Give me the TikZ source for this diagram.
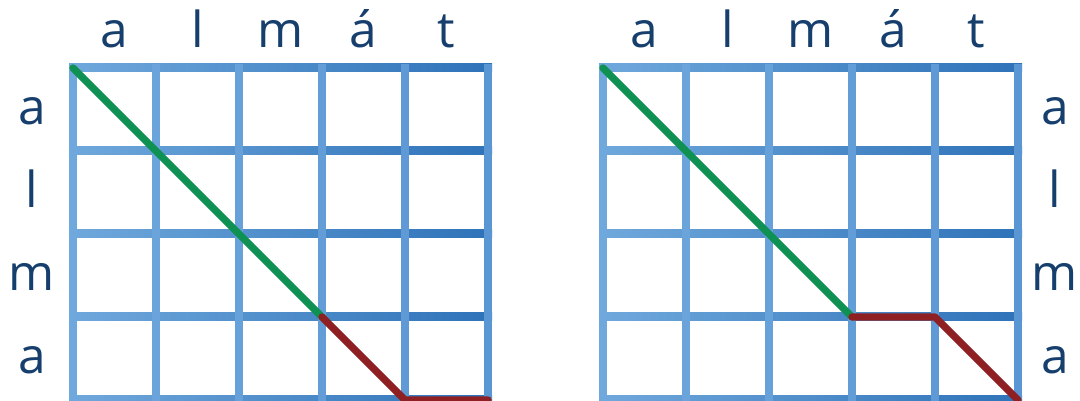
\documentclass[tikz,border=0pt]{standalone}
\usepackage{fontspec}
\setmainfont{Open Sans}
\begin{document}
\begin{tikzpicture}[
        hline/.style={left color=gridlt, right color=griddk},
        vline/.style={line width=2.75pt},
        matchline/.style={draw=matchg, line width=2.5pt, line cap=round, line join=round},
        gapline/.style={draw=gapred, line width=2.5pt, line cap=round, line join=round},
        lab/.style={font=\fontsize{17}{20}\selectfont, text=labnavy, anchor=base},
      ]
      \definecolor{gridlt}{HTML}{6FA8DC}
      \definecolor{gridmid}{HTML}{5590D2}
      \definecolor{griddk}{HTML}{2E72B8}
      \definecolor{labnavy}{HTML}{173F6D}
      \definecolor{matchg}{HTML}{0E9152}
      \definecolor{gapred}{HTML}{8E2024}
      \path[use as bounding box] (0,0) rectangle (13.012,4.831);
      % left grid
      \begin{scope}[shift={(0.88,0.012)}]
        \foreach \r in {0,...,4} {\shade[hline] (-0.048,\r-0.048) rectangle (5.048,\r+0.048);}
        \foreach \c in {0,...,5} {\pgfmathsetmacro\p{100-\c*15}\draw[vline, draw=gridlt!\p!gridmid] (\c,-0.048) -- (\c,4.048);}
        \foreach \ch [count=\i] in {a,l,m,á,t} {\node[lab] (ltop\i) at (\i-0.5,4.241) {\ch};}
        \foreach \ch [count=\i] in {a,l,m,a} {\node[lab] (lside\i) at (-0.494,4.313-\i) {\ch};}
        \draw[matchline] (0,4) -- (3,1);
        \draw[gapline] (3,1) -- (4,0) -- (5,0);
      \end{scope}
      % right grid
      \begin{scope}[shift={(7.265,0.012)}]
        \foreach \r in {0,...,4} {\shade[hline] (-0.048,\r-0.048) rectangle (5.048,\r+0.048);}
        \foreach \c in {0,...,5} {\pgfmathsetmacro\p{100-\c*15}\draw[vline, draw=gridlt!\p!gridmid] (\c,-0.048) -- (\c,4.048);}
        \foreach \ch [count=\i] in {a,l,m,á,t} {\node[lab] (rtop\i) at (\i-0.5,4.241) {\ch};}
        \foreach \ch [count=\i] in {a,l,m,a} {\node[lab] (rside\i) at (5.445,4.313-\i) {\ch};}
        \draw[matchline] (0,4) -- (3,1);
        \draw[gapline] (3,1) -- (4,1) -- (5,0);
      \end{scope}
    \end{tikzpicture}
\end{document}
